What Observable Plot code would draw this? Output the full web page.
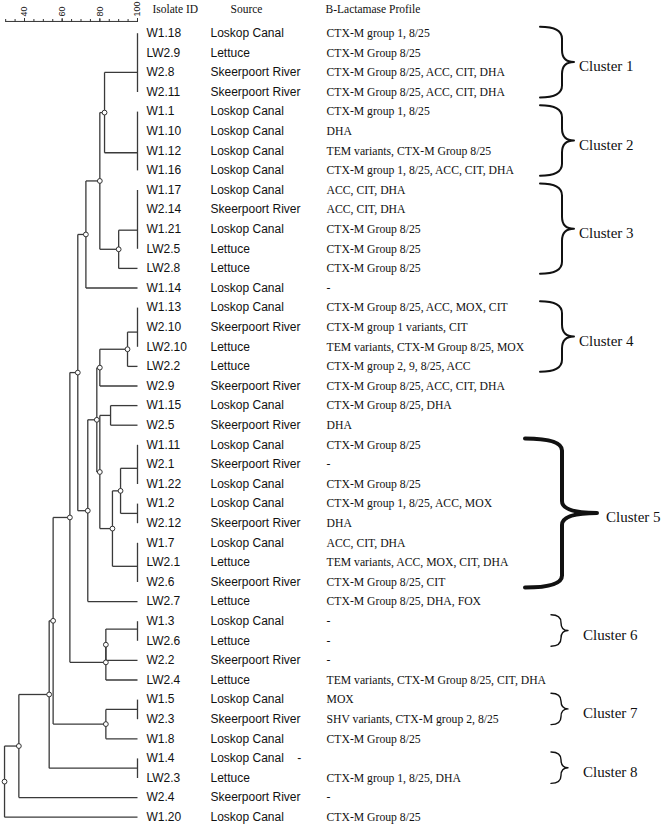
<!DOCTYPE html>
<html><head><meta charset="utf-8">
<script src="https://cdn.jsdelivr.net/npm/d3@7"></script>
<script src="https://cdn.jsdelivr.net/npm/@observablehq/plot@0.6"></script>
<style>body{margin:0;background:#fff}</style>
</head><body><div id="chart"></div>
<script>
// ---------- data ----------
const isolateIds = ["W1.18","LW2.9","W2.8","W2.11","W1.1","W1.10","W1.12","W1.16","W1.17","W2.14","W1.21","LW2.5","LW2.8","W1.14","W1.13","W2.10","LW2.10","LW2.2","W2.9","W1.15","W2.5","W1.11","W2.1","W1.22","W1.2","W2.12","W1.7","LW2.1","W2.6","LW2.7","W1.3","LW2.6","W2.2","LW2.4","W1.5","W2.3","W1.8","W1.4","LW2.3","W2.4","W1.20"];
const sources = ["Loskop Canal","Lettuce","Skeerpoort River","Skeerpoort River","Loskop Canal","Loskop Canal","Loskop Canal","Loskop Canal","Loskop Canal","Skeerpoort River","Loskop Canal","Lettuce","Lettuce","Loskop Canal","Loskop Canal","Skeerpoort River","Lettuce","Lettuce","Skeerpoort River","Loskop Canal","Skeerpoort River","Loskop Canal","Skeerpoort River","Loskop Canal","Loskop Canal","Skeerpoort River","Loskop Canal","Lettuce","Skeerpoort River","Lettuce","Loskop Canal","Lettuce","Skeerpoort River","Lettuce","Loskop Canal","Skeerpoort River","Loskop Canal","Loskop Canal\u00a0\u00a0\u00a0\u00a0-","Lettuce","Skeerpoort River","Loskop Canal"];
const profiles = ["CTX-M group 1, 8/25","CTX-M Group 8/25","CTX-M Group 8/25, ACC, CIT, DHA","CTX-M Group 8/25, ACC, CIT, DHA","CTX-M group 1, 8/25","DHA","TEM variants, CTX-M Group 8/25","CTX-M group 1, 8/25, ACC, CIT, DHA","ACC, CIT, DHA","ACC, CIT, DHA","CTX-M Group 8/25","CTX-M Group 8/25","CTX-M Group 8/25","-","CTX-M Group 8/25, ACC, MOX, CIT","CTX-M group 1 variants, CIT","TEM variants, CTX-M Group 8/25, MOX","CTX-M group 2, 9, 8/25, ACC","CTX-M Group 8/25, ACC, CIT, DHA","CTX-M Group 8/25, DHA","DHA","CTX-M Group 8/25","-","CTX-M Group 8/25","CTX-M group 1, 8/25, ACC, MOX","DHA","ACC, CIT, DHA","TEM variants, ACC, MOX, CIT, DHA","CTX-M Group 8/25, CIT","CTX-M Group 8/25, DHA, FOX","-","-","-","TEM variants, CTX-M Group 8/25, CIT, DHA","MOX","SHV variants, CTX-M group 2, 8/25","CTX-M Group 8/25","","CTX-M group 1, 8/25, DHA","-","CTX-M Group 8/25"];
const headers = ["Isolate ID","Source","B-Lactamase Profile"];

// groups of isolates identical at 100% similarity: first row, last row, row where the branch joins
const identicalGroups = [
  {id:"G1", rows:[0,3], join:2.0},
  {id:"G2", rows:[4,7], join:6.1},
  {id:"G3", rows:[8,11], join:10.05},
  {id:"G4", rows:[14,16], join:15.25},
  {id:"G5a", rows:[21,23], join:22.2},
  {id:"G5b", rows:[24,25], join:24.5},
  {id:"G5c", rows:[26,28], join:27.2},
  {id:"G6", rows:[30,31], join:30.4},
  {id:"G7", rows:[34,35], join:34.5},
  {id:"G8", rows:[37,38], join:37.5}
];
// internal nodes (similarity %, children), listed bottom-up
const nodes = [
  {id:"A", sim:82.5, kids:["G1","G2"]},
  {id:"C", sim:90.0, kids:["G3","LW2.8"]},
  {id:"B", sim:80.0, kids:["A","C"]},
  {id:"D", sim:72.6, kids:["B","W1.14"]},
  {id:"F", sim:94.7, kids:["G4","LW2.2"]},
  {id:"G", sim:80.0, kids:["F","W2.9"]},
  {id:"J", sim:85.7, kids:["W1.15","W2.5"]},
  {id:"L", sim:91.0, kids:["G5a","G5b"]},
  {id:"M", sim:86.7, kids:["L","G5c"]},
  {id:"I", sim:80.0, kids:["J","M"]},
  {id:"H", sim:78.4, kids:["G","I"]},
  {id:"K", sim:73.6, kids:["H","LW2.7"]},
  {id:"E", sim:68.3, kids:["D","K"]},
  {id:"R", sim:83.2, kids:["G6","W2.2"]},
  {id:"Q", sim:83.2, kids:["R","LW2.4"]},
  {id:"P", sim:64.1, kids:["E","Q"]},
  {id:"U", sim:83.2, kids:["G7","W1.8"]},
  {id:"S", sim:55.2, kids:["P","U"]},
  {id:"T", sim:53.1, kids:["S","G8"]},
  {id:"V", sim:37.0, kids:["T","W2.4"]},
  {id:"root", sim:29.4, kids:["V","W1.20"]}
];
const unmarkedNodes = ["J"];
const clusters = [
  {name:"Cluster 1", rows:[0,3]},
  {name:"Cluster 2", rows:[4,7]},
  {name:"Cluster 3", rows:[8,12]},
  {name:"Cluster 4", rows:[14,17]},
  {name:"Cluster 5", rows:[21,28]},
  {name:"Cluster 6", rows:[30,31]},
  {name:"Cluster 7", rows:[34,35]},
  {name:"Cluster 8", rows:[37,38]}
];
const majorTicks = [40, 60, 80, 100];
const minorTicks = [30, 35, 40, 45, 50, 55, 60, 65, 70, 75, 80, 85, 90, 95, 100];
const scaleStart = 30;

// ---------- layout ----------
const pos = {};
isolateIds.forEach((id, i) => pos[id] = {x: 100, y: i});
identicalGroups.forEach(g => pos[g.id] = {x: 100, y: g.join});
nodes.forEach(n => pos[n.id] = {x: n.sim, y: d3.mean(n.kids, k => pos[k].y)});

const segs = [];
identicalGroups.forEach(g => segs.push({x1:100, x2:100, y1:g.rows[0], y2:g.rows[1]}));
nodes.forEach(n => {
  const ys = n.kids.map(k => pos[k].y);
  segs.push({x1:n.sim, x2:n.sim, y1:d3.min(ys), y2:d3.max(ys)});
  n.kids.forEach(k => segs.push({x1:n.sim, x2:pos[k].x, y1:pos[k].y, y2:pos[k].y}));
});
const rows = isolateIds.map((id, i) => ({id, source: sources[i], profile: profiles[i], row: i}));
const markedNodes = nodes.filter(n => !unmarkedNodes.includes(n.id));

const sans = "Liberation Sans, Arial, sans-serif";
const serif = "Liberation Serif, Times New Roman, serif";
const AXIS_ROW = -0.6, HEADER_ROW = -1.2;

function brackets(index, scales) {
  const y = scales.y;
  const g = d3.create("svg:g");
  clusters.forEach(c => {
    const span = c.rows[1] - c.rows[0];
    let st;
    if (c.name === "Cluster 5") st = {x0:525, x1:562, xt:597, sw:4, lx:606};
    else if (span >= 3) st = {x0:540, x1:562, xt:574, sw:2, lx:579};
    else st = {x0:551, x1:561, xt:568, sw:1.4, lx:583};
    const y0 = y(c.rows[0] - 0.3), y1 = y(c.rows[1] + 0.3), ym = (y0 + y1) / 2;
    const r = Math.min(12, (y1 - y0) / 4);
    const p = `M${st.x0},${y0} Q${st.x1},${y0} ${st.x1},${y0 + r} L${st.x1},${ym - r} Q${st.x1},${ym} ${st.xt},${ym} Q${st.x1},${ym} ${st.x1},${ym + r} L${st.x1},${y1 - r} Q${st.x1},${y1} ${st.x0},${y1}`;
    g.append("path").attr("d", p).attr("fill", "none").attr("stroke", "#111")
      .attr("stroke-width", st.sw).attr("stroke-linejoin", "round").attr("stroke-linecap", "round");
    g.append("text").attr("x", st.lx).attr("y", ym + 4).attr("dy", "0.35em")
      .attr("text-anchor", "start")
      .attr("font-family", serif).attr("font-size", 15).attr("fill", "#111").text(c.name);
  });
  return g.node();
}

const chart = Plot.plot({
  width: 667, height: 827,
  marginTop: 21, marginLeft: 0, marginRight: 0, marginBottom: 0,
  x: {domain: [40, 100], range: [24, 137]},
  y: {domain: [0, 40], range: [32.7, 816.7], axis: null},
  style: {fontFamily: sans, background: "white", overflow: "visible"},
  marks: [
    Plot.axisX(minorTicks, {anchor: "top", tickSize: 3, text: null, label: null, stroke: "#333"}),
    Plot.axisX(majorTicks, {anchor: "top", tickSize: 4, tickPadding: 1, tickRotate: -90, label: null, fontSize: 9, fill: "#222", stroke: "#333", fontFamily: sans}),
    Plot.link([{x1: scaleStart, x2: 100}], {x1: "x1", x2: "x2", y1: () => AXIS_ROW, y2: () => AXIS_ROW, stroke: "#333", strokeWidth: 1}),
    Plot.link(segs, {x1: "x1", y1: "y1", x2: "x2", y2: "y2", stroke: "#3a3a3a", strokeWidth: 1.3}),
    Plot.dot(markedNodes, {x: n => pos[n.id].x, y: n => pos[n.id].y, r: 2.4, fill: "white", stroke: "#333", strokeWidth: 1}),
    Plot.text(rows, {x: () => 100, y: "row", text: "id", textAnchor: "start", dx: 9, fontSize: 12, fontFamily: sans, fill: "#111"}),
    Plot.text(rows, {x: () => 100, y: "row", text: "source", textAnchor: "start", dx: 73, fontSize: 12, fontFamily: sans, fill: "#111"}),
    Plot.text(rows, {x: () => 100, y: "row", text: "profile", textAnchor: "start", dx: 189, fontSize: 11.7, fontFamily: serif, fill: "#111"}),
    Plot.text([headers[0]], {x: () => 100, y: () => HEADER_ROW, text: d => d, textAnchor: "start", dx: 15, fontSize: 11.5, fontFamily: serif, fill: "#111"}),
    Plot.text([headers[1]], {x: () => 100, y: () => HEADER_ROW, text: d => d, textAnchor: "start", dx: 93, fontSize: 11.5, fontFamily: serif, fill: "#111"}),
    Plot.text([headers[2]], {x: () => 100, y: () => HEADER_ROW, text: d => d, textAnchor: "start", dx: 188, fontSize: 11.5, fontFamily: serif, fill: "#111"}),
    brackets
  ]
});
document.getElementById("chart").appendChild(chart);
</script>
</body></html>
